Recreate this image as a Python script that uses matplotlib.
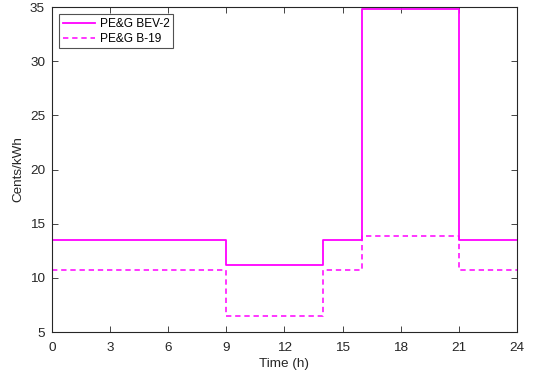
import matplotlib.pyplot as plt

plt.rcParams['font.family'] = ['Liberation Sans', 'DejaVu Sans']

# period boundaries (h) and rates (cents/kWh) per period
hours = [0, 9, 14, 16, 21, 24]
bev2 = [13.5, 11.2, 13.5, 34.8, 13.5]
b19 = [10.7, 6.5, 10.7, 13.85, 10.7]

GRAY = '#262626'

fig = plt.figure(figsize=(5.33, 3.79), dpi=100)
ax = fig.add_axes([0.0976, 0.124, 0.872, 0.8575])

ax.step(hours, bev2 + [bev2[-1]], where='post', color='#FF00FF', lw=1.3, label='PE&G BEV-2')
ax.step(hours, b19 + [b19[-1]], where='post', color='#FF00FF', lw=1.1, ls=(0, (3.5, 2.5)),
        label='PE&G B-19')

ax.set_xlim(0, 24)
ax.set_ylim(5, 35)
ax.set_xticks(range(0, 25, 3))
ax.set_yticks(range(5, 36, 5))
ax.tick_params(direction='in', length=4, width=0.6, colors=GRAY, labelsize=9.7,
               top=True, right=True)
ax.tick_params(axis='x', pad=7)
ax.tick_params(axis='y', pad=5)
for s in ax.spines.values():
    s.set_color(GRAY)
    s.set_linewidth(0.8)
ax.set_xlabel('Time (h)', fontsize=9.7, color=GRAY, labelpad=3)
ax.set_ylabel('Cents/kWh', fontsize=9.7, color=GRAY, labelpad=4)

leg = ax.legend(loc='upper left', fontsize=8.6, frameon=True, fancybox=False,
                handlelength=2.7, borderpad=0.3, labelspacing=0.25, handletextpad=0.4,
                borderaxespad=0.6)
leg.get_frame().set_edgecolor(GRAY)
leg.get_frame().set_linewidth(0.8)

fig.savefig('out.png', dpi=100)
